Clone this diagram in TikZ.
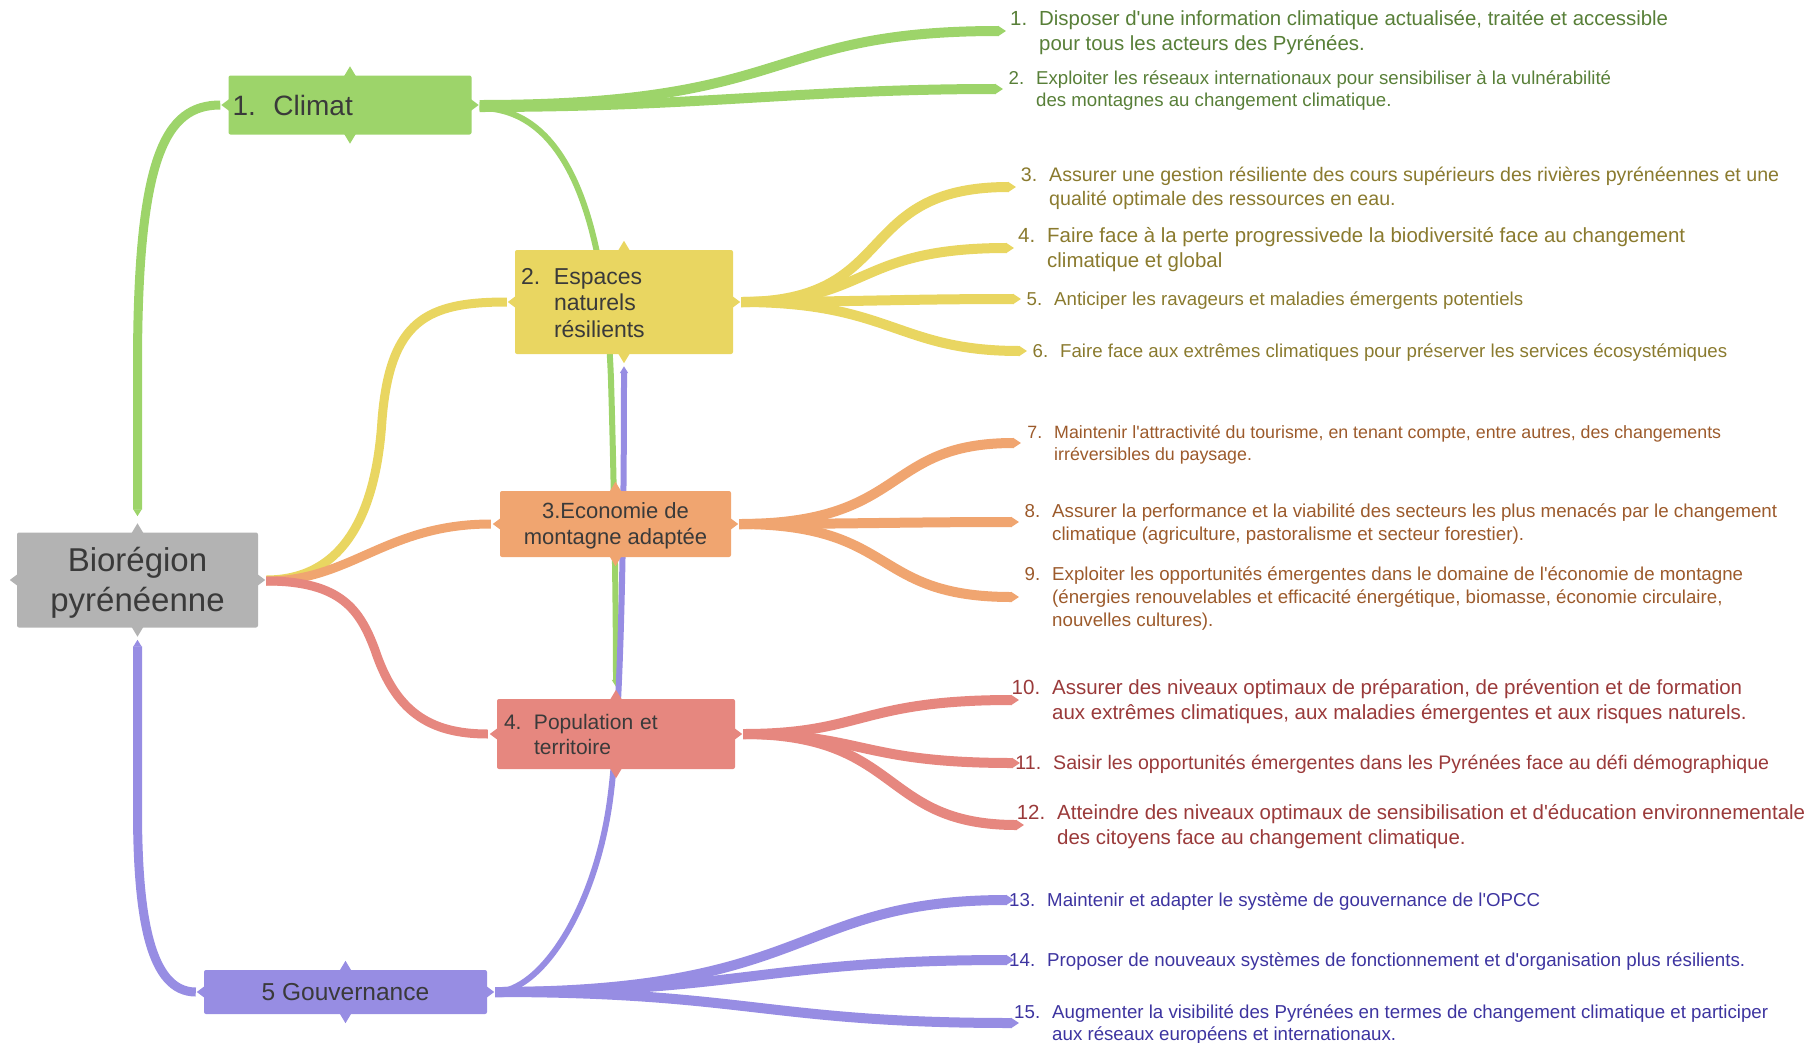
\documentclass[tikz,border=0pt]{standalone}
\usepackage{fontspec}
\setmainfont{Liberation Sans}[Ligatures=TeXOff]
\usetikzlibrary{arrows.meta,backgrounds,calc}

\definecolor{rootc}{HTML}{B3B3B3}
\definecolor{greenc}{HTML}{9DD46A}
\definecolor{yellowc}{HTML}{E9D661}
\definecolor{orangec}{HTML}{F0A570}
\definecolor{redc}{HTML}{E6877F}
\definecolor{purplec}{HTML}{978DE3}
\definecolor{boxt}{HTML}{3A3A3A}
\definecolor{greent}{HTML}{587F38}
\definecolor{yellowt}{HTML}{8A7A2E}
\definecolor{oranget}{HTML}{9C5A2B}
\definecolor{redt}{HTML}{9A3A3A}
\definecolor{purplet}{HTML}{3D34A0}

\tikzset{
  topic/.style={rounded corners=2pt, inner ysep=0pt, text=boxt},
  leaftext/.style={anchor=west, inner sep=0pt},
  branch/.style={line width=9pt},
  twig/.style={line width=10pt, -{Triangle[length=8pt,width=10pt]}},
  crosslink/.style={line width=6pt},
  pinend/.tip={Triangle[length=7pt,width=8pt]}
}

% move text down inside its box, keeping the box
\newcommand\dropby[2]{\raisebox{-#1}[\height][\depth]{#2}}

% leaf text: first line fitted to a width, number hanging in front
\newlength\leafw
\newcommand\leaf[4]{%
  \settowidth\leafw{\fontsize{10pt}{12pt}\selectfont #3}%
  \pgfmathsetmacro\leafsz{10*#1/\leafw}%
  \pgfmathsetmacro\leafbs{1.22*\leafsz}%
  \fontsize{\leafsz pt}{\leafbs pt}\selectfont
  \dropby{2pt}{\makebox[19pt][r]{#2}\hspace{12pt}%
  \begin{tabular}[t]{@{}l@{}}#3#4\end{tabular}}}

\begin{document}
\begin{tikzpicture}[x=1pt, y=-1pt]
  \useasboundingbox (0,0) rectangle (1812,1042);

  % topics
  \node[topic, fill=rootc, minimum width=241pt, minimum height=95pt,
        font=\fontsize{33pt}{40pt}\selectfont] (root) at (137.5,580)
        {\dropby{3.5pt}{\begin{tabular}{@{}c@{}}Biorégion\\pyrénéenne\end{tabular}}};
  \node[topic, fill=greenc, minimum height=59pt, text width=235pt, inner xsep=4pt, align=left,
        font=\fontsize{28pt}{32pt}\selectfont] (climat) at (350,105) {\makebox[41pt][l]{1.}Climat};
  \node[topic, fill=yellowc, minimum height=104pt, text width=206pt, inner xsep=6pt, align=left,
        font=\fontsize{23pt}{26.5pt}\selectfont] (espaces) at (624,302)
        {\dropby{3.5pt}{\makebox[33pt][l]{2.}\begin{tabular}[t]{@{}l@{}}Espaces\\naturels\\résilients\end{tabular}}};
  \node[topic, fill=orangec, minimum width=231pt, minimum height=66pt,
        font=\fontsize{22pt}{26pt}\selectfont] (econ) at (615.5,524)
        {\dropby{2.5pt}{\begin{tabular}{@{}c@{}}3.Economie de\\montagne adaptée\end{tabular}}};
  \node[topic, fill=redc, minimum height=70pt, text width=224pt, inner xsep=7pt, align=left,
        font=\fontsize{21pt}{25pt}\selectfont] (popu) at (616,734)
        {\dropby{2.5pt}{\makebox[30pt][l]{4.}\begin{tabular}[t]{@{}l@{}}Population et\\territoire\end{tabular}}};
  \node[topic, fill=purplec, minimum width=283pt, minimum height=44pt,
        font=\fontsize{24.5pt}{28pt}\selectfont] (gouv) at (345.5,992) {5 Gouvernance};

  \foreach \n/\c in {root/rootc,climat/greenc,espaces/yellowc,econ/orangec,popu/redc,gouv/purplec}{
    \fill[\c] (\n.north) ++(-6,1) -- ++(6,-10) -- ++(6,10) -- cycle;
    \fill[\c] (\n.south) ++(-6,-1) -- ++(6,10) -- ++(6,-10) -- cycle;
    \fill[\c] (\n.west) ++(1,-6) -- ++(-8,6) -- ++(8,6) -- cycle;
    \fill[\c] (\n.east) ++(-1,-6) -- ++(8,6) -- ++(-8,6) -- cycle;
  }

  % leaves
  \node[leaftext, text=greent] (l1) at (1008,31) {\leaf{629}{1.}{Disposer d'une information climatique actualisée, traitée et accessible}{\\pour tous les acteurs des Pyrénées.}};
  \node[leaftext, text=greent] (l2) at (1005,89) {\leaf{575}{2.}{Exploiter les réseaux internationaux pour sensibiliser à la vulnérabilité}{\\des montagnes au changement climatique.}};
  \node[leaftext, text=yellowt] (l3) at (1018,187) {\leaf{730}{3.}{Assurer une gestion résiliente des cours supérieurs des rivières pyrénéennes et une}{\\qualité optimale des ressources en eau.}};
  \node[leaftext, text=yellowt] (l4) at (1016,248) {\leaf{638}{4.}{Faire face à la perte progressivede la biodiversité face au changement}{\\climatique et global}};
  \node[leaftext, text=yellowt] (l5) at (1023,299) {\leaf{469}{5.}{Anticiper les ravageurs et maladies émergents potentiels}{}};
  \node[leaftext, text=yellowt] (l6) at (1029,351) {\leaf{667}{6.}{Faire face aux extrêmes climatiques pour préserver les services écosystémiques}{}};
  \node[leaftext, text=oranget] (l7) at (1023,443) {\leaf{667}{7.}{Maintenir l'attractivité du tourisme, en tenant compte, entre autres, des changements}{\\irréversibles du paysage.}};
  \node[leaftext, text=oranget] (l8) at (1021,522) {\leaf{725}{8.}{Assurer la performance et la viabilité des secteurs les plus menacés par le changement}{\\climatique (agriculture, pastoralisme et secteur forestier).}};
  \node[leaftext, text=oranget] (l9) at (1021,597) {\leaf{691}{9.}{Exploiter les opportunités émergentes dans le domaine de l'économie de montagne}{\\(énergies renouvelables et efficacité énergétique, biomasse, économie circulaire,\\nouvelles cultures).}};
  \node[leaftext, text=redt] (l10) at (1021,700) {\leaf{690}{10.}{Assurer des niveaux optimaux de préparation, de prévention et de formation}{\\aux extrêmes climatiques, aux maladies émergentes et aux risques naturels.}};
  \node[leaftext, text=redt] (l11) at (1022,763) {\leaf{716}{11.}{Saisir les opportunités émergentes dans les Pyrénées face au défi démographique}{}};
  \node[leaftext, text=redt] (l12) at (1026,825) {\leaf{748}{12.}{Atteindre des niveaux optimaux de sensibilisation et d'éducation environnementale}{\\des citoyens face au changement climatique.}};
  \node[leaftext, text=purplet] (l13) at (1016,900) {\leaf{493}{13.}{Maintenir et adapter le système de gouvernance de l'OPCC}{}};
  \node[leaftext, text=purplet] (l14) at (1016,960) {\leaf{698}{14.}{Proposer de nouveaux systèmes de fonctionnement et d'organisation plus résilients.}{}};
  \node[leaftext, text=purplet] (l15) at (1021,1023) {\leaf{716}{15.}{Augmenter la visibilité des Pyrénées en termes de changement climatique et participer}{\\aux réseaux européens et internationaux.}};

  \begin{pgfonlayer}{background}
    % main branches
    \draw[branch, greenc, {pinend}-] ($(root.north)+(0,-16)$) -- ++(0,-150)
          .. controls +(0,-210) and +(-55,0) .. ($(climat.west)+(-8,0)$);
    \draw[branch, purplec, {pinend}-] ($(root.south)+(0,12)$) -- ++(0,170)
          .. controls +(0,110) and +(-45,0) .. ($(gouv.west)+(-8,0)$);
    \draw[branch, yellowc] ($(root.east)+(8,0)$) .. controls +(85,0) and +(-5,80) .. (382,420)
          .. controls +(8,-100) and +(-80,0) .. ($(espaces.west)+(-8,0)$);
    \draw[branch, orangec] ($(root.east)+(8,1)$) .. controls +(85,0) and +(-105,0) .. ($(econ.west)+(-9,0)$);
    \draw[branch, redc] ($(root.east)+(8,1)$) .. controls +(75,0) and +(-15,-40) .. (375,650)
          .. controls +(20,60) and +(-60,0) .. ($(popu.west)+(-9,0)$);

    % cross links
    \draw[crosslink, greenc, -{pinend}] ($(climat.east)+(8,3)$) .. controls +(95,0) and +(-5,-140) .. (611,380)
          .. controls +(3,100) and +(0,-80) .. ($(popu.north)+(0,-12)$);
    \draw[crosslink, purplec, -{pinend}] ($(gouv.east)+(8,0)$) .. controls +(45,0) and +(-15,110) .. (610,800)
          .. controls +(10,-73) and +(0,200) .. ($(espaces.south)+(0,12)$);

    % twigs
    \draw[twig, greenc] ($(climat.east)+(8,0)$) .. controls +(320,0) and +(-245,0) .. ($(l1.west)+(-2,0)$);
    \draw[twig, greenc] ($(climat.east)+(8,2)$) .. controls +(220,0) and +(-200,0) .. ($(l2.west)+(-2,0)$);
    \draw[twig, yellowc] ($(espaces.east)+(8,0)$) .. controls +(160,0) and +(-165,0) .. ($(l3.west)+(-2,0)$);
    \draw[twig, yellowc] ($(espaces.east)+(8,0)$) .. controls +(130,0) and +(-160,0) .. ($(l4.west)+(-2,0)$);
    \draw[twig, yellowc] ($(espaces.east)+(8,0)$) .. controls +(110,0) and +(-120,0) .. ($(l5.west)+(-2,0)$);
    \draw[twig, yellowc] ($(espaces.east)+(8,0)$) .. controls +(150,0) and +(-130,0) .. ($(l6.west)+(-2,0)$);
    \draw[twig, orangec] ($(econ.east)+(8,0)$) .. controls +(170,0) and +(-140,0) .. ($(l7.west)+(-2,0)$);
    \draw[twig, orangec] ($(econ.east)+(8,0)$) .. controls +(110,0) and +(-110,0) .. ($(l8.west)+(-2,0)$);
    \draw[twig, orangec] ($(econ.east)+(8,0)$) .. controls +(160,0) and +(-150,0) .. ($(l9.west)+(-2,0)$);
    \draw[twig, redc] ($(popu.east)+(8,0)$) .. controls +(120,0) and +(-160,0) .. ($(l10.west)+(-2,0)$);
    \draw[twig, redc] ($(popu.east)+(8,0)$) .. controls +(120,0) and +(-160,0) .. ($(l11.west)+(-2,0)$);
    \draw[twig, redc] ($(popu.east)+(8,0)$) .. controls +(160,0) and +(-145,0) .. ($(l12.west)+(-2,0)$);
    \draw[twig, purplec] ($(gouv.east)+(8,0)$) .. controls +(320,0) and +(-220,0) .. ($(l13.west)+(-2,0)$);
    \draw[twig, purplec] ($(gouv.east)+(8,0)$) .. controls +(250,0) and +(-250,0) .. ($(l14.west)+(-2,0)$);
    \draw[twig, purplec] ($(gouv.east)+(8,0)$) .. controls +(250,0) and +(-250,0) .. ($(l15.west)+(-2,0)$);
  \end{pgfonlayer}
\end{tikzpicture}
\end{document}
